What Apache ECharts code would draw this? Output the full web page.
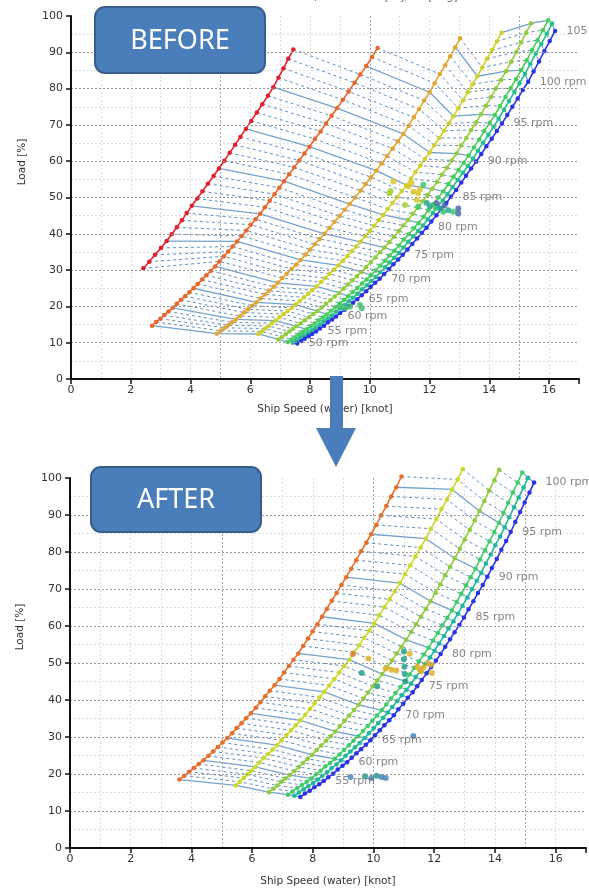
<!DOCTYPE html>
<html>
<head>
<meta charset="utf-8">
<script src="https://cdn.jsdelivr.net/npm/echarts@6/dist/echarts.min.js"></script>
<style>
  html, body { margin: 0; padding: 0; background: #fff; }
  #chart { width: 589px; height: 889px; }
</style>
</head>
<body>
<div id="chart"></div>
<script>
// ---- BEFORE: speed [knot] and load [%] per 1 rpm, starting at *Rpm0 ----
const beforeRedRpm0 = 66;
const beforeRedSpeed = [2.42, 2.62, 2.81, 3.01, 3.20, 3.37, 3.54, 3.71, 3.87, 4.04, 4.22, 4.40, 4.58, 4.77, 4.95, 5.13, 5.31, 5.49, 5.67, 5.85, 6.03, 6.22, 6.40, 6.59, 6.77, 6.94, 7.11, 7.27, 7.44];
const beforeRedLoad = [30.5, 32.3, 34.2, 36.1, 38.0, 39.9, 41.8, 43.7, 45.7, 47.7, 49.7, 51.7, 53.8, 55.9, 58.0, 60.1, 62.3, 64.5, 66.7, 68.9, 71.1, 73.4, 75.7, 78.0, 80.4, 83.0, 85.6, 88.2, 90.8];

const beforeOrangeRpm0 = 50;
const beforeOrangeSpeed = [2.71, 2.85, 2.99, 3.12, 3.26, 3.40, 3.54, 3.68, 3.82, 3.96, 4.10, 4.24, 4.39, 4.53, 4.68, 4.82, 4.97, 5.12, 5.26, 5.41, 5.56, 5.71, 5.87, 6.02, 6.18, 6.33, 6.49, 6.65, 6.81, 6.97, 7.13, 7.30, 7.47, 7.64, 7.81, 7.98, 8.16, 8.35, 8.53, 8.72, 8.90, 9.10, 9.29, 9.49, 9.68, 9.88, 10.07, 10.26];
const beforeOrangeLoad = [14.7, 15.7, 16.6, 17.6, 18.6, 19.6, 20.7, 21.8, 22.8, 23.9, 25.0, 26.2, 27.4, 28.6, 29.8, 31.0, 32.4, 33.8, 35.1, 36.5, 37.9, 39.4, 40.9, 42.5, 44.0, 45.5, 47.3, 49.1, 50.9, 52.7, 54.5, 56.4, 58.3, 60.2, 62.1, 64.0, 66.1, 68.2, 70.4, 72.5, 74.6, 76.9, 79.2, 81.6, 83.9, 86.2, 88.7, 91.2];

const beforeGoldRpm0 = 50;
const beforeGoldSpeed = [4.88, 5.01, 5.14, 5.26, 5.39, 5.52, 5.66, 5.79, 5.93, 6.06, 6.20, 6.34, 6.49, 6.63, 6.78, 6.92, 7.07, 7.22, 7.38, 7.53, 7.68, 7.84, 8.00, 8.16, 8.32, 8.48, 8.65, 8.82, 8.99, 9.16, 9.33, 9.51, 9.69, 9.86, 10.04, 10.22, 10.40, 10.58, 10.76, 10.94, 11.12, 11.30, 11.47, 11.65, 11.82, 12.00, 12.17, 12.34, 12.52, 12.69, 12.86, 13.02];
const beforeGoldLoad = [12.5, 13.3, 14.1, 14.8, 15.6, 16.4, 17.3, 18.3, 19.2, 20.2, 21.1, 22.2, 23.3, 24.3, 25.4, 26.5, 27.8, 29.0, 30.3, 31.5, 32.8, 34.2, 35.7, 37.1, 38.6, 40.0, 41.6, 43.3, 44.9, 46.6, 48.2, 50.0, 51.9, 53.7, 55.6, 57.4, 59.4, 61.4, 63.5, 65.5, 67.5, 69.8, 72.1, 74.4, 76.7, 79.0, 81.5, 84.0, 86.4, 88.9, 91.4, 93.9];

const beforeYellowRpm0 = 50;
const beforeYellowSpeed = [6.27, 6.39, 6.50, 6.62, 6.73, 6.85, 6.98, 7.12, 7.25, 7.39, 7.52, 7.66, 7.80, 7.94, 8.08, 8.22, 8.37, 8.51, 8.66, 8.80, 8.95, 9.10, 9.25, 9.39, 9.54, 9.69, 9.84, 10.00, 10.15, 10.30, 10.45, 10.60, 10.76, 10.91, 11.07, 11.22, 11.38, 11.53, 11.69, 11.84, 12.00, 12.16, 12.32, 12.48, 12.64, 12.80, 12.96, 13.12, 13.28, 13.44, 13.60, 13.76, 13.92, 14.09, 14.25, 14.41];
const beforeYellowLoad = [12.4, 13.1, 13.9, 14.6, 15.4, 16.1, 17.0, 17.9, 18.7, 19.6, 20.5, 21.5, 22.5, 23.5, 24.5, 25.5, 26.7, 27.8, 29.0, 30.1, 31.3, 32.6, 33.9, 35.2, 36.5, 37.8, 39.3, 40.8, 42.2, 43.7, 45.2, 46.8, 48.5, 50.1, 51.8, 53.4, 55.2, 57.0, 58.8, 60.6, 62.4, 64.4, 66.4, 68.4, 70.4, 72.4, 74.6, 76.8, 79.0, 81.2, 83.4, 85.8, 88.2, 90.6, 93.0, 95.4];

const beforeLimeRpm0 = 50;
const beforeLimeSpeed = [6.94, 7.06, 7.18, 7.30, 7.42, 7.54, 7.68, 7.82, 7.96, 8.10, 8.24, 8.39, 8.53, 8.68, 8.82, 8.97, 9.12, 9.27, 9.42, 9.57, 9.72, 9.87, 10.03, 10.18, 10.34, 10.49, 10.65, 10.81, 10.97, 11.12, 11.28, 11.44, 11.60, 11.77, 11.93, 12.09, 12.25, 12.41, 12.58, 12.74, 12.90, 13.06, 13.23, 13.39, 13.56, 13.72, 13.89, 14.06, 14.22, 14.39, 14.56, 14.73, 14.90, 15.06, 15.23, 15.40];
const beforeLimeLoad = [10.9, 11.6, 12.3, 13.1, 13.8, 14.5, 15.3, 16.2, 17.0, 17.9, 18.7, 19.7, 20.7, 21.7, 22.7, 23.7, 24.9, 26.0, 27.2, 28.3, 29.5, 30.8, 32.2, 33.5, 34.9, 36.2, 37.7, 39.2, 40.8, 42.3, 43.8, 45.5, 47.2, 49.0, 50.7, 52.4, 54.3, 56.3, 58.2, 60.2, 62.1, 64.3, 66.4, 68.6, 70.7, 72.9, 75.3, 77.7, 80.0, 82.4, 84.8, 87.4, 90.1, 92.7, 95.4, 98.0];

const beforeGreenRpm0 = 50;
const beforeGreenSpeed = [7.25, 7.38, 7.51, 7.63, 7.76, 7.89, 8.02, 8.16, 8.29, 8.43, 8.56, 8.70, 8.85, 8.99, 9.14, 9.28, 9.43, 9.58, 9.74, 9.89, 10.04, 10.20, 10.35, 10.51, 10.66, 10.82, 10.98, 11.14, 11.31, 11.47, 11.63, 11.80, 11.96, 12.13, 12.29, 12.46, 12.63, 12.80, 12.97, 13.14, 13.31, 13.48, 13.66, 13.83, 14.01, 14.18, 14.36, 14.54, 14.71, 14.89, 15.07, 15.25, 15.43, 15.61, 15.79, 15.97];
const beforeGreenLoad = [10.2, 10.9, 11.6, 12.3, 13.0, 13.7, 14.5, 15.3, 16.2, 17.0, 17.8, 18.8, 19.8, 20.8, 21.8, 22.8, 24.0, 25.1, 26.3, 27.4, 28.6, 29.9, 31.3, 32.6, 34.0, 35.3, 36.8, 38.4, 39.9, 41.5, 43.0, 44.7, 46.5, 48.2, 50.0, 51.7, 53.7, 55.7, 57.6, 59.6, 61.6, 63.8, 66.0, 68.3, 70.5, 72.7, 75.2, 77.7, 80.1, 82.6, 85.1, 87.8, 90.6, 93.3, 96.1, 98.8];

const beforeTealRpm0 = 50;
const beforeTealSpeed = [7.42, 7.55, 7.68, 7.80, 7.93, 8.06, 8.19, 8.33, 8.46, 8.60, 8.73, 8.87, 9.01, 9.16, 9.30, 9.44, 9.59, 9.74, 9.90, 10.05, 10.20, 10.35, 10.51, 10.66, 10.82, 10.97, 11.13, 11.29, 11.46, 11.62, 11.78, 11.94, 12.11, 12.27, 12.44, 12.60, 12.77, 12.94, 13.11, 13.28, 13.45, 13.62, 13.79, 13.97, 14.14, 14.31, 14.49, 14.66, 14.84, 15.01, 15.19, 15.37, 15.55, 15.74, 15.92, 16.10];
const beforeTealLoad = [10.0, 10.7, 11.4, 12.0, 12.7, 13.4, 14.2, 15.0, 15.9, 16.7, 17.5, 18.5, 19.5, 20.4, 21.4, 22.4, 23.5, 24.7, 25.8, 27.0, 28.1, 29.4, 30.8, 32.1, 33.4, 34.7, 36.2, 37.8, 39.3, 40.8, 42.3, 44.0, 45.7, 47.5, 49.2, 50.9, 52.9, 54.8, 56.8, 58.7, 60.7, 62.9, 65.1, 67.3, 69.5, 71.7, 74.2, 76.6, 79.1, 81.5, 84.0, 86.8, 89.6, 92.3, 95.1, 97.9];

const beforeBlueRpm0 = 50;
const beforeBlueSpeed = [7.57, 7.70, 7.82, 7.95, 8.07, 8.20, 8.33, 8.47, 8.60, 8.74, 8.87, 9.01, 9.16, 9.30, 9.44, 9.58, 9.73, 9.88, 10.03, 10.18, 10.33, 10.48, 10.64, 10.79, 10.95, 11.10, 11.26, 11.42, 11.58, 11.74, 11.90, 12.06, 12.23, 12.39, 12.56, 12.72, 12.89, 13.06, 13.22, 13.39, 13.56, 13.73, 13.90, 14.08, 14.25, 14.42, 14.60, 14.77, 14.95, 15.12, 15.30, 15.48, 15.66, 15.84, 16.02, 16.20];
const beforeBlueLoad = [9.8, 10.5, 11.1, 11.8, 12.4, 13.1, 13.9, 14.7, 15.6, 16.4, 17.2, 18.2, 19.1, 20.1, 21.0, 22.0, 23.1, 24.2, 25.4, 26.5, 27.6, 28.9, 30.2, 31.6, 32.9, 34.2, 35.7, 37.2, 38.7, 40.2, 41.7, 43.4, 45.1, 46.8, 48.5, 50.2, 52.1, 54.1, 56.0, 58.0, 59.9, 62.0, 64.1, 66.2, 68.3, 70.4, 72.7, 75.0, 77.3, 79.6, 81.9, 84.7, 87.5, 90.3, 93.1, 95.9];

const beforeLabelRpm = [50, 55, 60, 65, 70, 75, 80, 85, 90, 95, 100, 105];

// measured operating points [speed, load]
const beforePtsYellow = [[10.79, 54.4], [11.29, 53.0], [11.46, 51.6], [11.62, 51.2], [11.57, 49.3], [11.68, 52.2], [11.40, 54.0]];
const beforePtsLime = [[10.65, 51.2], [11.18, 47.9], [10.70, 51.8]];
const beforePtsGreen = [[11.79, 53.5], [11.62, 47.5], [12.46, 46.1], [12.79, 46.1], [12.20, 47.2], [9.00, 20.1], [9.17, 19.5], [9.34, 19.9], [9.67, 20.4], [9.73, 19.5]];
const beforePtsTeal = [[12.01, 47.5], [12.63, 46.5], [12.35, 47.0], [11.90, 48.5]];
const beforePtsSteel = [[12.24, 48.4], [12.96, 47.0], [12.96, 45.6], [12.50, 47.8]];

// ---- AFTER ----
const afterOrangeRpm0 = 50;
const afterOrangeSpeed = [3.60, 3.76, 3.92, 4.08, 4.24, 4.40, 4.56, 4.71, 4.87, 5.02, 5.18, 5.34, 5.49, 5.65, 5.80, 5.96, 6.12, 6.27, 6.43, 6.58, 6.74, 6.90, 7.05, 7.21, 7.36, 7.52, 7.68, 7.84, 7.99, 8.15, 8.30, 8.46, 8.62, 8.78, 8.94, 9.10, 9.26, 9.43, 9.59, 9.76, 9.92, 10.09, 10.25, 10.42, 10.58, 10.75, 10.92];
const afterOrangeLoad = [18.5, 19.5, 20.6, 21.6, 22.7, 23.7, 24.9, 26.1, 27.3, 28.5, 29.7, 31.0, 32.4, 33.7, 35.1, 36.4, 37.9, 39.4, 41.0, 42.5, 44.0, 45.7, 47.4, 49.2, 50.9, 52.6, 54.6, 56.6, 58.5, 60.5, 62.5, 64.6, 66.8, 68.9, 71.1, 73.2, 75.5, 77.8, 80.2, 82.5, 84.8, 87.3, 89.9, 92.4, 95.0, 97.5, 100.4];

const afterYellowRpm0 = 50;
const afterYellowSpeed = [5.46, 5.59, 5.72, 5.84, 5.97, 6.10, 6.24, 6.39, 6.53, 6.68, 6.82, 6.97, 7.13, 7.28, 7.44, 7.59, 7.75, 7.91, 8.06, 8.22, 8.38, 8.54, 8.71, 8.87, 9.04, 9.20, 9.36, 9.53, 9.69, 9.86, 10.02, 10.19, 10.36, 10.53, 10.70, 10.87, 11.04, 11.21, 11.38, 11.55, 11.72, 11.89, 12.07, 12.24, 12.42, 12.59, 12.77, 12.94];
const afterYellowLoad = [16.9, 17.9, 18.9, 19.9, 20.9, 21.9, 23.1, 24.3, 25.4, 26.6, 27.8, 29.1, 30.5, 31.8, 33.2, 34.5, 36.0, 37.6, 39.1, 40.7, 42.2, 43.9, 45.7, 47.4, 49.2, 50.9, 52.9, 54.8, 56.8, 58.7, 60.7, 62.9, 65.1, 67.2, 69.4, 71.6, 74.0, 76.4, 78.8, 81.2, 83.6, 86.3, 88.9, 91.6, 94.2, 96.9, 99.6, 102.4];

const afterLimeRpm0 = 50;
const afterLimeSpeed = [6.55, 6.69, 6.83, 6.96, 7.10, 7.24, 7.39, 7.54, 7.68, 7.83, 7.98, 8.13, 8.28, 8.44, 8.59, 8.74, 8.89, 9.05, 9.20, 9.36, 9.51, 9.67, 9.82, 9.98, 10.13, 10.29, 10.45, 10.61, 10.76, 10.92, 11.08, 11.24, 11.40, 11.56, 11.72, 11.88, 12.04, 12.20, 12.36, 12.52, 12.68, 12.84, 13.00, 13.17, 13.33, 13.49, 13.65, 13.81, 13.98, 14.14];
const afterLimeLoad = [15.1, 16.0, 16.9, 17.9, 18.8, 19.7, 20.8, 21.9, 23.0, 24.1, 25.2, 26.5, 27.7, 29.0, 30.2, 31.5, 32.9, 34.4, 35.8, 37.3, 38.7, 40.4, 42.0, 43.7, 45.3, 47.0, 48.9, 50.7, 52.6, 54.4, 56.3, 58.4, 60.5, 62.5, 64.6, 66.7, 69.0, 71.3, 73.7, 76.0, 78.3, 80.9, 83.4, 86.0, 88.5, 91.1, 93.8, 96.6, 99.4, 102.2];

const afterGreenRpm0 = 50;
const afterGreenSpeed = [7.18, 7.33, 7.49, 7.64, 7.80, 7.95, 8.11, 8.26, 8.41, 8.57, 8.72, 8.88, 9.03, 9.19, 9.34, 9.50, 9.65, 9.81, 9.96, 10.12, 10.27, 10.42, 10.58, 10.73, 10.89, 11.04, 11.19, 11.35, 11.50, 11.66, 11.81, 11.96, 12.12, 12.27, 12.43, 12.58, 12.74, 12.89, 13.05, 13.20, 13.36, 13.51, 13.67, 13.82, 13.98, 14.13, 14.28, 14.44, 14.59, 14.75, 14.90];
const afterGreenLoad = [14.4, 15.3, 16.2, 17.0, 17.9, 18.8, 19.9, 20.9, 22.0, 23.0, 24.1, 25.3, 26.5, 27.8, 29.0, 30.2, 31.6, 33.0, 34.4, 35.8, 37.2, 38.8, 40.4, 41.9, 43.5, 45.1, 46.9, 48.7, 50.5, 52.3, 54.1, 56.1, 58.1, 60.2, 62.2, 64.2, 66.5, 68.7, 71.0, 73.2, 75.5, 78.0, 80.5, 82.9, 85.4, 87.9, 90.6, 93.3, 96.1, 98.8, 101.5];

const afterTealRpm0 = 50;
const afterTealSpeed = [7.39, 7.54, 7.70, 7.85, 8.01, 8.16, 8.31, 8.47, 8.62, 8.78, 8.93, 9.08, 9.24, 9.39, 9.55, 9.70, 9.85, 10.01, 10.16, 10.32, 10.47, 10.62, 10.78, 10.93, 11.09, 11.24, 11.39, 11.55, 11.70, 11.86, 12.01, 12.16, 12.32, 12.47, 12.63, 12.78, 12.93, 13.09, 13.24, 13.40, 13.55, 13.70, 13.86, 14.01, 14.17, 14.32, 14.47, 14.63, 14.78, 14.94, 15.09];
const afterTealLoad = [14.1, 15.0, 15.9, 16.7, 17.6, 18.5, 19.5, 20.5, 21.6, 22.6, 23.7, 24.9, 26.1, 27.2, 28.4, 29.7, 31.0, 32.4, 33.8, 35.2, 36.6, 38.1, 39.7, 41.3, 42.8, 44.4, 46.2, 47.9, 49.7, 51.5, 53.3, 55.3, 57.3, 59.3, 61.3, 63.3, 65.5, 67.7, 69.9, 72.2, 74.4, 76.9, 79.3, 81.8, 84.2, 86.7, 89.4, 92.1, 94.7, 97.4, 100.1];

const afterBlueRpm0 = 50;
const afterBlueSpeed = [7.59, 7.74, 7.90, 8.05, 8.21, 8.36, 8.51, 8.67, 8.82, 8.98, 9.13, 9.28, 9.44, 9.59, 9.75, 9.90, 10.05, 10.21, 10.36, 10.52, 10.67, 10.82, 10.98, 11.13, 11.29, 11.44, 11.59, 11.75, 11.90, 12.06, 12.21, 12.36, 12.52, 12.67, 12.83, 12.98, 13.13, 13.29, 13.44, 13.60, 13.75, 13.90, 14.06, 14.21, 14.37, 14.52, 14.67, 14.83, 14.98, 15.14, 15.29];
const afterBlueLoad = [13.8, 14.7, 15.5, 16.4, 17.2, 18.1, 19.1, 20.1, 21.2, 22.2, 23.2, 24.4, 25.6, 26.7, 27.9, 29.1, 30.5, 31.8, 33.2, 34.5, 35.9, 37.5, 39.0, 40.6, 42.1, 43.7, 45.4, 47.2, 48.9, 50.7, 52.4, 54.4, 56.4, 58.3, 60.3, 62.3, 64.5, 66.7, 68.9, 71.1, 73.3, 75.7, 78.1, 80.6, 83.0, 85.4, 88.1, 90.8, 93.4, 96.1, 98.8];

const afterLabelRpm = [55, 60, 65, 70, 75, 80, 85, 90, 95, 100];

const afterPtsOrange = [[9.32, 52.4]];
const afterPtsGold = [[9.83, 51.2], [10.59, 48.2], [10.75, 48.0], [11.19, 52.5], [11.52, 48.2], [11.57, 47.7], [11.79, 50.0], [11.92, 47.3], [11.90, 49.5], [11.45, 49.0], [11.65, 48.8], [10.40, 48.5]];
const afterPtsTeal = [[9.61, 47.3], [10.12, 43.7], [11.00, 53.1], [11.00, 51.0], [11.02, 49.0], [11.03, 47.0], [11.05, 45.0], [9.72, 19.4], [10.10, 19.5]];
const afterPtsBlue = [[11.31, 30.3], [9.24, 19.2], [9.93, 18.9], [10.26, 19.2], [10.40, 18.9]];

// ---- build ----
const beforeCurves = [
  { rpm0: beforeRedRpm0, speed: beforeRedSpeed, load: beforeRedLoad, color: '#e2202d' },
  { rpm0: beforeOrangeRpm0, speed: beforeOrangeSpeed, load: beforeOrangeLoad, color: '#e8672b' },
  { rpm0: beforeGoldRpm0, speed: beforeGoldSpeed, load: beforeGoldLoad, color: '#e2a531' },
  { rpm0: beforeYellowRpm0, speed: beforeYellowSpeed, load: beforeYellowLoad, color: '#cfd22b' },
  { rpm0: beforeLimeRpm0, speed: beforeLimeSpeed, load: beforeLimeLoad, color: '#93cd3b' },
  { rpm0: beforeGreenRpm0, speed: beforeGreenSpeed, load: beforeGreenLoad, color: '#46cf58' },
  { rpm0: beforeTealRpm0, speed: beforeTealSpeed, load: beforeTealLoad, color: '#22bf8c' },
  { rpm0: beforeBlueRpm0, speed: beforeBlueSpeed, load: beforeBlueLoad, color: '#2b33e6' }
];
const afterCurves = [
  { rpm0: afterOrangeRpm0, speed: afterOrangeSpeed, load: afterOrangeLoad, color: '#e86f2a' },
  { rpm0: afterYellowRpm0, speed: afterYellowSpeed, load: afterYellowLoad, color: '#c9da29' },
  { rpm0: afterLimeRpm0, speed: afterLimeSpeed, load: afterLimeLoad, color: '#8fcc3d' },
  { rpm0: afterGreenRpm0, speed: afterGreenSpeed, load: afterGreenLoad, color: '#40cd68' },
  { rpm0: afterTealRpm0, speed: afterTealSpeed, load: afterTealLoad, color: '#1fb79e' },
  { rpm0: afterBlueRpm0, speed: afterBlueSpeed, load: afterBlueLoad, color: '#2b33e6' }
];

// lines of constant rpm across the curves, solid every 5 rpm
function rpmLines(curves, g) {
  const lo = Math.min(...curves.map(c => c.rpm0));
  const hi = Math.max(...curves.map(c => c.rpm0 + c.speed.length - 1));
  const out = [];
  for (let r = lo; r <= hi; r++) {
    const pts = [];
    curves.forEach(c => {
      const i = r - c.rpm0;
      if (i >= 0 && i < c.speed.length) pts.push([c.speed[i], c.load[i]]);
    });
    if (pts.length < 2) continue;
    const major = r % 5 === 0;
    out.push({
      type: 'line', xAxisIndex: g * 3, yAxisIndex: g * 2, data: pts,
      symbol: 'none', silent: true, clip: false, z: 2,
      lineStyle: major ? { color: '#74a3d0', width: 1.3 } : { color: '#5d8fc6', width: 1, type: [3, 3] }
    });
  }
  return out;
}

function curveSeries(c, g) {
  return {
    type: 'line', xAxisIndex: g * 3, yAxisIndex: g * 2,
    data: c.speed.map((s, i) => [s, c.load[i]]),
    symbol: 'circle', symbolSize: 4.5, showAllSymbol: true, clip: false, silent: true, z: 3,
    itemStyle: { color: c.color }, lineStyle: { color: c.color, width: 1.6 }
  };
}

function labelSeries(c, rpms, g) {
  return {
    type: 'scatter', xAxisIndex: g * 3, yAxisIndex: g * 2, clip: false, silent: true, z: 5,
    symbolSize: 1, itemStyle: { color: 'rgba(0,0,0,0)' },
    data: rpms.map(r => [c.speed[r - c.rpm0], c.load[r - c.rpm0], r]),
    label: { show: true, position: 'right', distance: 11, color: '#666', fontSize: 11,
      formatter: p => p.value[2] + ' rpm' }
  };
}

function ptsSeries(data, color, g) {
  return {
    type: 'scatter', xAxisIndex: g * 3, yAxisIndex: g * 2, data: data, silent: true, z: 4,
    symbolSize: 6, itemStyle: { color: color, opacity: 0.85 }
  };
}

function xAxes(g, nameGap) {
  const light = { color: '#dedede', type: [2, 2] };
  const dark = { color: '#a8a8a8', type: [2, 2] };
  const hidden = { axisLine: { show: false }, axisTick: { show: false }, axisLabel: { show: false } };
  return [
    { gridIndex: g, type: 'value', min: 0, max: 17, interval: 2, z: 5,
      axisLine: { lineStyle: { color: '#111', width: 2 } },
      axisTick: { length: 5, lineStyle: { color: '#111', width: 1.5 } },
      axisLabel: { color: '#333', fontSize: 11, margin: 6, formatter: v => (v % 2 === 0 ? String(v) : '') },
      splitLine: { show: false },
      name: 'Ship Speed (water) [knot]', nameLocation: 'middle', nameGap: nameGap,
      nameTextStyle: { color: '#333', fontSize: 10.5 } },
    Object.assign({ gridIndex: g, type: 'value', min: 0, max: 17, interval: 1, z: 0,
      splitLine: { show: true, showMaxLine: false, lineStyle: light } }, hidden),
    Object.assign({ gridIndex: g, type: 'value', min: 0, max: 17, interval: 5, z: 1,
      splitLine: { show: true, showMaxLine: false, lineStyle: dark } }, hidden)
  ];
}

function yAxes(g) {
  const hidden = { axisLine: { show: false }, axisTick: { show: false }, axisLabel: { show: false } };
  return [
    { gridIndex: g, type: 'value', min: 0, max: 100, interval: 10, z: 5,
      axisLine: { show: true, lineStyle: { color: '#111', width: 2 } },
      axisTick: { show: true, length: 5, lineStyle: { color: '#111', width: 1.5 } },
      axisLabel: { color: '#333', fontSize: 11, margin: 8 },
      splitLine: { show: true, showMaxLine: false, showMinLine: false, lineStyle: { color: '#9a9a9a', type: [2, 2] } } },
    Object.assign({ gridIndex: g, type: 'value', min: 0, max: 100, interval: 5, z: 0,
      splitLine: { show: true, showMaxLine: false, lineStyle: { color: '#dedede', type: [2, 2] } } }, hidden)
  ];
}

const series = [].concat(
  rpmLines(beforeCurves, 0),
  beforeCurves.map(c => curveSeries(c, 0)),
  [labelSeries(beforeCurves[beforeCurves.length - 1], beforeLabelRpm, 0),
   ptsSeries(beforePtsYellow, '#dcc62a', 0),
   ptsSeries(beforePtsLime, '#a6d33a', 0),
   ptsSeries(beforePtsGreen, '#3cc86a', 0),
   ptsSeries(beforePtsTeal, '#27a891', 0),
   ptsSeries(beforePtsSteel, '#4d6aa8', 0)],
  rpmLines(afterCurves, 1),
  afterCurves.map(c => curveSeries(c, 1)),
  [labelSeries(afterCurves[afterCurves.length - 1], afterLabelRpm, 1),
   ptsSeries(afterPtsOrange, '#e07a3c', 1),
   ptsSeries(afterPtsGold, '#e2b22a', 1),
   ptsSeries(afterPtsTeal, '#23a08c', 1),
   ptsSeries(afterPtsBlue, '#4a86b8', 1)]
);

const chart = echarts.init(document.getElementById('chart'));
chart.setOption({
  animation: false,
  backgroundColor: '#fff',
  textStyle: { fontFamily: '"DejaVu Sans", Verdana, sans-serif' },
  grid: [
    { left: 71, right: 10, top: 16, bottom: 510 },
    { left: 70, right: 0, top: 478, bottom: 41 }
  ],
  xAxis: xAxes(0, 25).concat(xAxes(1, 28)),
  yAxis: yAxes(0).concat(yAxes(1)),
  series: series,
  graphic: [
    { type: 'text', x: 205, y: -8, z: 50, silent: true,
      style: { text: 'DESIGN CONDITION, 8.40 - 8.40 [m], 90 [deg]', fill: '#666', font: '11px "DejaVu Sans"' } },
    { type: 'text', x: 22, y: 162, rotation: Math.PI / 2, z: 50, silent: true,
      style: { text: 'Load [%]', fill: '#333', font: '10.5px "DejaVu Sans"', align: 'center', verticalAlign: 'middle' } },
    { type: 'text', x: 20, y: 627, rotation: Math.PI / 2, z: 50, silent: true,
      style: { text: 'Load [%]', fill: '#333', font: '10.5px "DejaVu Sans"', align: 'center', verticalAlign: 'middle' } },
    { type: 'rect', z: 100, shape: { x: 95, y: 7, width: 170, height: 66, r: 10 },
      style: { fill: '#4a7ebb', stroke: '#385d8a', lineWidth: 2 } },
    { type: 'text', z: 101, x: 180, y: 41,
      style: { text: 'BEFORE', fill: '#fff', font: '27px "Noto Sans", sans-serif', align: 'center', verticalAlign: 'middle' } },
    { type: 'rect', z: 100, shape: { x: 91, y: 467, width: 170, height: 65, r: 10 },
      style: { fill: '#4a7ebb', stroke: '#385d8a', lineWidth: 2 } },
    { type: 'text', z: 101, x: 176, y: 500,
      style: { text: 'AFTER', fill: '#fff', font: '27px "Noto Sans", sans-serif', align: 'center', verticalAlign: 'middle' } },
    { type: 'rect', z: 100, shape: { x: 330, y: 376, width: 13, height: 53 },
      style: { fill: '#4a7ebb' } },
    { type: 'polygon', z: 100, shape: { points: [[316, 428], [356, 428], [336, 467]] },
      style: { fill: '#4a7ebb' } }
  ]
});
</script>
</body>
</html>
